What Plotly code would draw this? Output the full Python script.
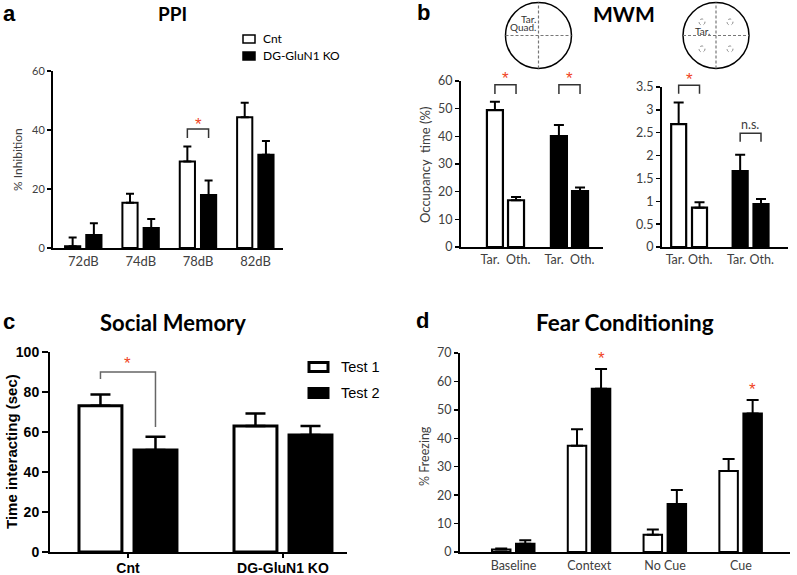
import plotly.graph_objects as go

W, H = 797, 575

# ---------------- data ----------------
# a: PPI
ppi_levels = ["72dB", "74dB", "78dB", "82dB"]
ppi_cnt = [0.6, 15.3, 29.3, 44.3]
ppi_cnt_err = [3.0, 3.1, 5.1, 4.9]
ppi_ko = [4.4, 6.8, 18.0, 31.6]
ppi_ko_err = [4.0, 3.0, 4.9, 4.7]

# b: MWM (quadrant occupancy, platform occupancy)
mwm_groups = ["Cnt", "DG-GluN1 KO"]
quad_tar = [49.5, 40.1]
quad_tar_err = [3.0, 4.0]
quad_oth = [16.9, 20.2]
quad_oth_err = [1.2, 1.3]
plat_tar = [2.69, 1.66]
plat_tar_err = [0.47, 0.36]
plat_oth = [0.86, 0.94]
plat_oth_err = [0.12, 0.11]
mwm_colors = ["white", "black"]

# c: Social memory
soc_groups = ["Cnt", "DG-GluN1 KO"]
soc_test1 = [73.1, 63.0]
soc_test1_err = [5.6, 6.3]
soc_test2 = [51.0, 58.5]
soc_test2_err = [6.6, 4.5]

# d: Fear conditioning
fc_phases = ["Baseline", "Context", "No Cue", "Cue"]
fc_cnt = [0.9, 37.4, 6.1, 28.5]
fc_cnt_err = [0.3, 5.8, 1.8, 4.2]
fc_ko = [2.9, 57.4, 16.9, 48.7]
fc_ko_err = [1.2, 7.0, 4.9, 4.8]

# ---------------- helpers ----------------
RED = "#F0431F"
CAL = "Lato"
ARI = "Liberation Sans"
GRAY = "#404040"


def xd(p0, p1):
    return [p0 / W, p1 / W]


def yd(pb, pt):
    return [1 - pb / H, 1 - pt / H]


def px(x):
    return x / W


def py(y):
    return 1 - y / H


def bar(x, y, err, color, xa, ya, offset, width, lw, ew, cap):
    return go.Bar(
        x=x, y=y, xaxis=xa, yaxis=ya, offset=offset, width=width,
        marker=dict(color=color, line=dict(color="black", width=lw)),
        error_y=dict(type="data", symmetric=False, array=err,
                     arrayminus=[0] * len(err), color="black",
                     thickness=ew, width=cap),
        showlegend=False, hoverinfo="skip",
    )


fig = go.Figure()
shapes = []
ann = []


def note(text, x, y, font, xanchor="center", yanchor="middle", **kw):
    d = dict(text=text, x=x, y=y, showarrow=False, font=font,
             xanchor=xanchor, yanchor=yanchor)
    d.setdefault("xref", "paper")
    d.setdefault("yref", "paper")
    d.update(kw)
    ann.append(d)


# ---------------- panel a ----------------
ia = list(range(len(ppi_levels)))
wa, oa_c, oa_k = 0.265, -0.32, 0.05
fig.add_trace(bar(ia, ppi_cnt, ppi_cnt_err, "white", "x", "y", oa_c, wa, 2, 2, 4))
fig.add_trace(bar(ia, ppi_ko, ppi_ko_err, "black", "x", "y", oa_k, wa, 2, 2, 4))

# ---------------- panel b ----------------
ib = list(range(len(mwm_groups)))
wb, ob_t, ob_o = 0.25, -0.29, 0.04
fig.add_trace(bar(ib, quad_tar, quad_tar_err, mwm_colors, "x2", "y2", ob_t, wb, 2.2, 2, 5))
fig.add_trace(bar(ib, quad_oth, quad_oth_err, mwm_colors, "x2", "y2", ob_o, wb, 2.2, 2, 5))
wb3, ob3_t, ob3_o = 0.244, -0.29, 0.049
fig.add_trace(bar(ib, plat_tar, plat_tar_err, mwm_colors, "x3", "y3", ob3_t, wb3, 2.2, 2, 5))
fig.add_trace(bar(ib, plat_oth, plat_oth_err, mwm_colors, "x3", "y3", ob3_o, wb3, 2.2, 2, 5))

# ---------------- panel c ----------------
ic = list(range(len(soc_groups)))
wc, oc_1, oc_2 = 0.277, -0.316, 0.039
fig.add_trace(bar(ic, soc_test1, soc_test1_err, "white", "x4", "y4", oc_1, wc, 3, 2.5, 10))
fig.add_trace(bar(ic, soc_test2, soc_test2_err, "black", "x4", "y4", oc_2, wc, 3, 2.5, 10))

# ---------------- panel d ----------------
idd = list(range(len(fc_phases)))
wd, od_c, od_k = 0.244, -0.284, 0.033
fig.add_trace(bar(idd, fc_cnt, fc_cnt_err, "white", "x5", "y5", od_c, wd, 2, 2, 6))
fig.add_trace(bar(idd, fc_ko, fc_ko_err, "black", "x5", "y5", od_k, wd, 2, 2, 6))


# ---------------- axes ----------------
def xax(dom, rng, anchor, vals, text, font, ticks="", standoff=0):
    d = dict(domain=dom, range=rng, anchor=anchor, showline=True, linecolor="black",
             linewidth=2, showgrid=False, zeroline=False, tickvals=vals, ticktext=text,
             tickfont=font, ticks=ticks, fixedrange=True, ticklabelstandoff=standoff,
             automargin=False)
    if ticks:
        d.update(ticklen=4, tickwidth=2, tickcolor="black")
    return d


def yax(dom, rng, anchor, vals, font, text=None, ticklen=4, tw=1.5):
    return dict(domain=dom, range=rng, anchor=anchor, showline=True, linecolor="black",
                linewidth=2, showgrid=False, zeroline=False, tickvals=vals,
                ticktext=text, tickfont=font, ticks="outside", ticklen=ticklen,
                tickwidth=tw, tickcolor="black", fixedrange=True, automargin=False)


fa = dict(family=CAL, size=13, color=GRAY)
fay = dict(family=CAL, size=11, color=GRAY)
fb = dict(family=CAL, size=12.5, color=GRAY)
fc = dict(family=ARI, size=14, color="black", weight="bold")
fd = dict(family=CAL, size=12.5, color=GRAY)

fig.update_layout(
    template="none",
    xaxis=xax(xd(53, 283), [-0.53, 3.48], "y", ia, ppi_levels, fa),
    yaxis=yax(yd(248, 71), [0, 60], "x", [0, 20, 40, 60], fay),
    xaxis2=xax(xd(461, 603), [-0.695, 1.524], "y2", ib,
               ["Tar.\u00a0\u00a0Oth.", "Tar.\u00a0\u00a0Oth."], fb),
    yaxis2=yax(yd(247, 81), [0, 60], "x2", [0, 10, 20, 30, 40, 50, 60], fb),
    xaxis3=xax(xd(662, 788), [-0.439, 1.61], "y3", ib,
               ["Tar.\u00a0Oth.", "Tar.\u00a0Oth."], fb),
    yaxis3=yax(yd(247, 87), [0, 3.5], "x3", [0, 0.5, 1, 1.5, 2, 2.5, 3, 3.5], fb,
               text=["0", "0.5", "1", "1.5", "2", "2.5", "3", "3.5"]),
    xaxis4=xax(xd(50, 347), [-0.503, 1.413], "y4", ic, soc_groups, fc, ticks="outside",
               standoff=-2),
    yaxis4=yax(yd(552, 352), [0, 100], "x4", [0, 20, 40, 60, 80, 100], fc, ticklen=6, tw=2),
    xaxis5=xax(xd(460, 790), [-0.706, 3.648], "y5", idd, fc_phases, fd, standoff=1),
    yaxis5=yax(yd(552, 353), [0, 70], "x5", [0, 10, 20, 30, 40, 50, 60, 70], fd),
)


# ---------------- significance brackets ----------------
def bracket(xref, yref, ymax, x0, x1, yt, yb0, yb1, color="#333333", w=1.5):
    dy = lambda v: v / ymax
    shapes.append(dict(
        type="path", xref=xref, yref=yref + " domain",
        path=f"M {x0},{dy(yb0)} L {x0},{dy(yt)} L {x1},{dy(yt)} L {x1},{dy(yb1)}",
        line=dict(color=color, width=w)))


def star(xref, yref, ymax, x, y, size=17):
    note("*", x, y / ymax, dict(family=ARI, size=size, color=RED),
         xref=xref, yref=yref + " domain")


# a: 78dB
g = 2
ca = g + oa_c + wa / 2
ka = g + oa_k + wa / 2
top_a = max(ppi_cnt[g] + ppi_cnt_err[g], ppi_ko[g] + ppi_ko_err[g])
bracket("x", "y", 60, ca, ka, top_a + 5.9, top_a + 2.9, top_a + 2.9)
star("x", "y", 60, g, top_a + 7.3)

# b left
for gi in ib:
    c0 = gi + ob_t + wb / 2
    c1 = gi + ob_o + wb / 2
    bracket("x2", "y2", 60, c0, c1, 58.6, 55.3, 55.3)
    star("x2", "y2", 60, gi, 60.8)

# b right
c0 = 0 + ob3_t + wb3 / 2
c1 = 0 + ob3_o + wb3 / 2
bracket("x3", "y3", 3.5, c0, c1, 3.54, 3.35, 3.35)
star("x3", "y3", 3.5, 0, 3.66)
c0 = 1 + ob3_t + wb3 / 2
c1 = 1 + ob3_o + wb3 / 2
bracket("x3", "y3", 3.5, c0, c1, 2.49, 2.30, 2.30)
note("n.s.", 1, 2.69 / 3.5, dict(family=CAL, size=12.5, color=GRAY), xref="x3", yref="y3 domain")

# c: Cnt test1 vs test2
c0 = 0 + oc_1 + wc / 2
c1 = 0 + oc_2 + wc / 2
bracket("x4", "y4", 100, c0, c1, 90, 86.5, 62.5, color="#666666", w=1.5)
star("x4", "y4", 100, 0, 94.5)

# d: KO context & cue
for gi in (1, 3):
    star("x5", "y5", 70, gi + od_k + wd / 2, fc_ko[gi] + fc_ko_err[gi] + 3.5)

# ---------------- panel labels & titles ----------------
for t, x, y in [("a", 9, 13), ("b", 423, 12), ("c", 9, 321), ("d", 422, 320)]:
    note(f"<b>{t}</b>", px(x), py(y), dict(family=ARI, size=22, color="black"))
for t, x, y, s in [("PPI", 172, 13, 19), ("MWM", 624, 13, 21),
                   ("Social Memory", 173, 322, 22), ("Fear Conditioning", 625, 322, 22.5)]:
    note(f"<b>{t}</b>", px(x), py(y), dict(family=CAL, size=s, color="black"))

# y-axis titles
for t, x, y, f in [("% Inhibition", 18, 160, dict(family=CAL, size=12, color=GRAY)),
                   ("Occupancy\u00a0 time (%)", 425, 165, dict(family=CAL, size=13, color=GRAY)),
                   ("<b>Time interacting (sec)</b>", 11, 452, dict(family=ARI, size=15, color="black")),
                   ("% Freezing", 424, 456, dict(family=CAL, size=12.5, color=GRAY))]:
    note(t, px(x), py(y), f, textangle=-90)

# ---------------- legends ----------------
# a
for i, (name, col) in enumerate([("Cnt", "white"), ("DG-GluN1 KO", "black")]):
    yc = 39 + i * 17
    shapes.append(dict(type="rect", xref="paper", yref="paper",
                       x0=px(243), x1=px(255), y0=py(yc + 4), y1=py(yc - 4),
                       fillcolor=col, line=dict(color="black", width=1.5)))
    note(name, px(261), py(yc), dict(family=CAL, size=12, color="black"), xanchor="left")
# c
for i, (name, col) in enumerate([("Test 1", "white"), ("Test 2", "black")]):
    yc = 367 + i * 26
    shapes.append(dict(type="rect", xref="paper", yref="paper",
                       x0=px(309), x1=px(328), y0=py(yc + 4.5), y1=py(yc - 4.5),
                       fillcolor=col, line=dict(color="black", width=3)))
    note(name, px(339), py(yc), dict(family=ARI, size=14.5, color="black"), xanchor="left")

# ---------------- MWM schematics ----------------
for cx, cy, r in [(538.5, 35.5, 33), (716, 35.5, 33)]:
    shapes.append(dict(type="circle", xref="paper", yref="paper",
                       x0=px(cx - r), x1=px(cx + r), y0=py(cy + r), y1=py(cy - r),
                       line=dict(color="black", width=1.5)))
    shapes.append(dict(type="line", xref="paper", yref="paper",
                       x0=px(cx), x1=px(cx), y0=py(cy + r), y1=py(cy - r),
                       line=dict(color="#777777", width=1.2, dash="3px,2px")))
    shapes.append(dict(type="line", xref="paper", yref="paper",
                       x0=px(cx - r), x1=px(cx + r), y0=py(cy), y1=py(cy),
                       line=dict(color="#777777", width=1.2, dash="3px,2px")))
for sx, sy in [(702, 22), (730, 22), (702, 49), (730, 49)]:
    shapes.append(dict(type="circle", xref="paper", yref="paper",
                       x0=px(sx - 3), x1=px(sx + 3), y0=py(sy + 3), y1=py(sy - 3),
                       line=dict(color="#888888", width=1, dash="dot")))
for t, x, y, xa in [("Tar.", 537, 18.5, "right"), ("Quad.", 537, 27.5, "right"), ("Tar.", 702, 31, "center")]:
    note(t, px(x), py(y), dict(family=CAL, size=10, color="#333333"), xanchor=xa,
         borderpad=0)

fig.update_layout(
    width=W, height=H, margin=dict(l=0, r=0, t=0, b=0, autoexpand=False),
    paper_bgcolor="white", plot_bgcolor="white",
    barmode="overlay", showlegend=False,
    shapes=shapes, annotations=ann,
)

fig.write_html(
    "out.html",
    config={"displayModeBar": False, "staticPlot": True},
    post_script="document.body.style.margin='0';document.body.style.overflow='hidden';",
)
